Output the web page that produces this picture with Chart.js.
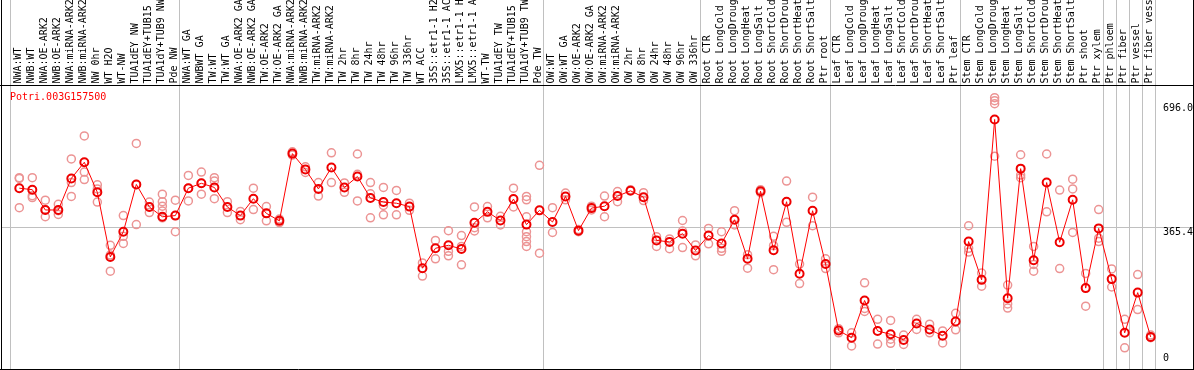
<!DOCTYPE html>
<html>
<head>
<meta charset="utf-8">
<script src="https://cdn.jsdelivr.net/npm/chart.js@4"></script>
<style>
  html, body { margin: 0; padding: 0; background: #fff; }
</style>
</head>
<body>
<canvas id="chart" width="1194" height="370"></canvas>
<script>
const geneName = 'Potri.003G157500';

const labels = [
  'NWA:WT', 'NWB:WT', 'NWA:OE-ARK2', 'NWB:OE-ARK2', 'NWA:miRNA-ARK2', 'NWB:miRNA-ARK2',
  'NW 0hr', 'WT H2O', 'WT-NW', 'TUA1dEY NW', 'TUA1dEY+TUB15 NW', 'TUA1dY+TUB9 NW', 'Pde NW',
  'NWA:WT GA', 'NWBWT GA', 'TW:WT', 'TW:WT GA', 'NWA:OE-ARK2 GA', 'NWB:OE-ARK2 GA',
  'TW:OE-ARK2', 'TW:OE-ARK2 GA', 'NWA:miRNA-ARK2', 'NWB:miRNA-ARK2', 'TW:miRNA-ARK2',
  'TW:miRNA-ARK2', 'TW 2hr', 'TW 8hr', 'TW 24hr', 'TW 48hr', 'TW 96hr', 'TW 336hr', 'WT ACC',
  '35S::etr1-1 H2O', '35S::etr1-1 ACC', 'LMX5::etr1-1 H2O', 'LMX5::etr1-1 ACC', 'WT-TW',
  'TUA1dEY TW', 'TUA1dEY+TUB15 TW', 'TUA1dY+TUB9 TW', 'Pde TW',
  'OW:WT', 'OW:WT GA', 'OW:OE-ARK2', 'OW:OE-ARK2 GA', 'OW:miRNA-ARK2', 'OW:miRNA-ARK2',
  'OW 2hr', 'OW 8hr', 'OW 24hr', 'OW 48hr', 'OW 96hr', 'OW 336hr',
  'Root CTR', 'Root LongCold', 'Root LongDrought', 'Root LongHeat', 'Root LongSalt',
  'Root ShortCold', 'Root ShortDrought', 'Root ShortHeat', 'Root ShortSalt', 'Ptr root',
  'Leaf CTR', 'Leaf LongCold', 'Leaf LongDrought', 'Leaf LongHeat', 'Leaf LongSalt',
  'Leaf ShortCold', 'Leaf ShortDrought', 'Leaf ShortHeat', 'Leaf ShortSalt', 'Ptr leaf',
  'Stem CTR', 'Stem LongCold', 'Stem LongDrought', 'Stem LongHeat', 'Stem LongSalt',
  'Stem ShortCold', 'Stem ShortDrought', 'Stem ShortHeat', 'Stem ShortSalt', 'Ptr shoot',
  'Ptr xylem', 'Ptr phloem', 'Ptr fiber', 'Ptr vessel', 'Ptr fiber vessel'
];

// mean expression per sample
const means = [
  468, 464, 410, 410, 494, 537, 457, 285, 352, 478, 418, 392, 395,
  468, 481, 470, 418, 395, 440, 401, 381, 560, 518, 466, 523, 470, 499, 442, 431, 428,
  419, 255, 308, 316, 306, 376, 405, 382, 439, 371, 409,
  378, 446, 355, 415, 420, 447, 461, 444, 329, 325, 347, 302,
  342, 321, 384, 280, 460, 303, 432, 240, 408, 266,
  89, 70, 169, 88, 79, 64, 108, 92, 75, 113,
  326, 224, 651, 175, 520, 276, 483, 324, 437, 202, 361,
  226, 83, 190, 72
];

// individual replicates per sample
const replicates = [
  [496, 494, 416], [496, 448, 443], [436, 410, 392], [425, 408, 398], [546, 483, 446],
  [607, 511, 491], [477, 466, 431], [316, 290, 247], [395, 340, 321], [587, 478, 371],
  [431, 418, 403], [452, 432, 420, 407, 389], [436, 395, 352],
  [502, 468, 434], [511, 481, 452], [496, 487, 440], [432, 403], [406, 384], [468, 411],
  [419, 381], [386, 376, 384], [565, 556], [525, 510], [483, 447], [562, 483], [482, 457],
  [559, 505, 434], [483, 453, 389], [470, 422, 397], [462, 397], [428, 409], [269, 234],
  [329, 280], [355, 300, 288], [342, 313, 264], [418, 354, 363], [419, 389], [393, 370],
  [468, 418], [446, 437, 392, 352, 339, 326, 313], [529, 295],
  [416, 350], [455, 437], [358, 352], [420, 410], [447, 392], [459, 432], [464],
  [456, 435], [339, 313], [333, 307], [382, 354, 310], [317, 288],
  [361, 320], [352, 308, 300], [408, 370], [291, 255], [464, 456], [340, 315, 251],
  [487, 377], [266, 214], [444, 368], [280, 254],
  [94, 83], [83, 48], [216, 148, 140], [119, 53], [116, 66, 55], [77, 52], [119, 92],
  [106, 83], [88, 56], [135, 91],
  [368, 308, 298], [242, 207], [709, 701, 693, 553], [210, 160, 149], [557, 503, 496],
  [313, 265, 247], [559, 405], [463, 254], [492, 466, 350], [241, 154], [411, 335, 326],
  [253, 205], [119, 43], [238, 145], [77, 70]
];

const yTicks = [0, 365.4, 696.0];
const groupStarts = [0, 13, 41, 53, 63, 73, 84, 85, 86, 87, 88];

const monoFont = '10px "DejaVu Sans Mono", "Liberation Mono", monospace';

const meanPoints = means.map((v, i) => ({ x: i, y: v }));
const repPoints = [];
replicates.forEach((list, i) => {
  list.forEach(v => repPoints.push({ x: i, y: v }));
});

function hline(ctx, x1, x2, y) {
  ctx.beginPath();
  ctx.moveTo(x1, y);
  ctx.lineTo(x2, y);
  ctx.stroke();
}

function vline(ctx, x, y1, y2) {
  ctx.beginPath();
  ctx.moveTo(x, y1);
  ctx.lineTo(x, y2);
  ctx.stroke();
}

const decorations = {
  id: 'decorations',
  beforeDatasetsDraw(chart) {
    const ctx = chart.ctx;
    const xs = chart.scales.x;
    const ys = chart.scales.y;
    ctx.save();
    ctx.strokeStyle = '#c0c0c0';
    ctx.lineWidth = 1;
    const gy = Math.round(ys.getPixelForValue(yTicks[1])) + 0.5;
    hline(ctx, 1, 1193, gy);
    groupStarts.forEach(b => {
      const px = Math.round(xs.getPixelForValue(b - 0.5) - 2.5) + 0.5;
      vline(ctx, px, 0, 369);
    });
    ctx.restore();
  },
  afterDraw(chart) {
    const ctx = chart.ctx;
    const xs = chart.scales.x;
    const ys = chart.scales.y;
    ctx.save();
    ctx.font = monoFont;
    ctx.fillStyle = '#000';

    // sample names, rotated
    labels.forEach((name, i) => {
      ctx.save();
      ctx.translate(xs.getPixelForValue(i) + 1.7, 83.5);
      ctx.rotate(-Math.PI / 2);
      ctx.textAlign = 'left';
      ctx.textBaseline = 'alphabetic';
      ctx.fillText(name, 0, 0);
      ctx.restore();
    });

    // axis values on the right
    ctx.textAlign = 'left';
    yTicks.forEach(v => {
      const py = ys.getPixelForValue(v);
      const text = v === 0 ? '0' : v.toFixed(1);
      if (v === 0) {
        ctx.textBaseline = 'bottom';
        ctx.fillText(text, 1163, py - 0.5);
      } else {
        ctx.textBaseline = 'top';
        ctx.fillText(text, 1163, py + 1);
      }
    });

    // gene name
    ctx.fillStyle = '#ff0000';
    ctx.textBaseline = 'alphabetic';
    ctx.fillText(geneName, 10, 100);

    // frame
    ctx.strokeStyle = '#000';
    ctx.lineWidth = 1;
    vline(ctx, 1.5, 0, 370);
    vline(ctx, 1193.5, 0, 370);
    hline(ctx, 0, 1194, 85.5);
    hline(ctx, 0, 1194, 369.5);
    ctx.restore();
  }
};

new Chart(document.getElementById('chart'), {
  type: 'line',
  data: {
    datasets: [
      {
        label: 'mean',
        data: meanPoints,
        borderColor: '#ff0000',
        borderWidth: 1,
        pointRadius: 4,
        pointBorderWidth: 2,
        pointBorderColor: '#ee0000',
        pointBackgroundColor: 'rgba(255,255,255,0)',
        tension: 0,
        order: 0
      },
      {
        label: 'replicates',
        data: repPoints,
        showLine: false,
        pointRadius: 4,
        pointBorderWidth: 1.5,
        pointBorderColor: '#ec9494',
        pointBackgroundColor: 'rgba(255,255,255,0)',
        order: 1
      }
    ]
  },
  options: {
    responsive: false,
    animation: false,
    devicePixelRatio: 1,
    layout: { padding: { left: 12.8, right: 36.8, top: 86, bottom: 2 } },
    plugins: {
      legend: { display: false },
      tooltip: { enabled: false }
    },
    scales: {
      x: { type: 'linear', min: -0.5, max: 87.5, display: false },
      y: { min: 0, max: 740, display: false }
    }
  },
  plugins: [decorations]
});
</script>
</body>
</html>
